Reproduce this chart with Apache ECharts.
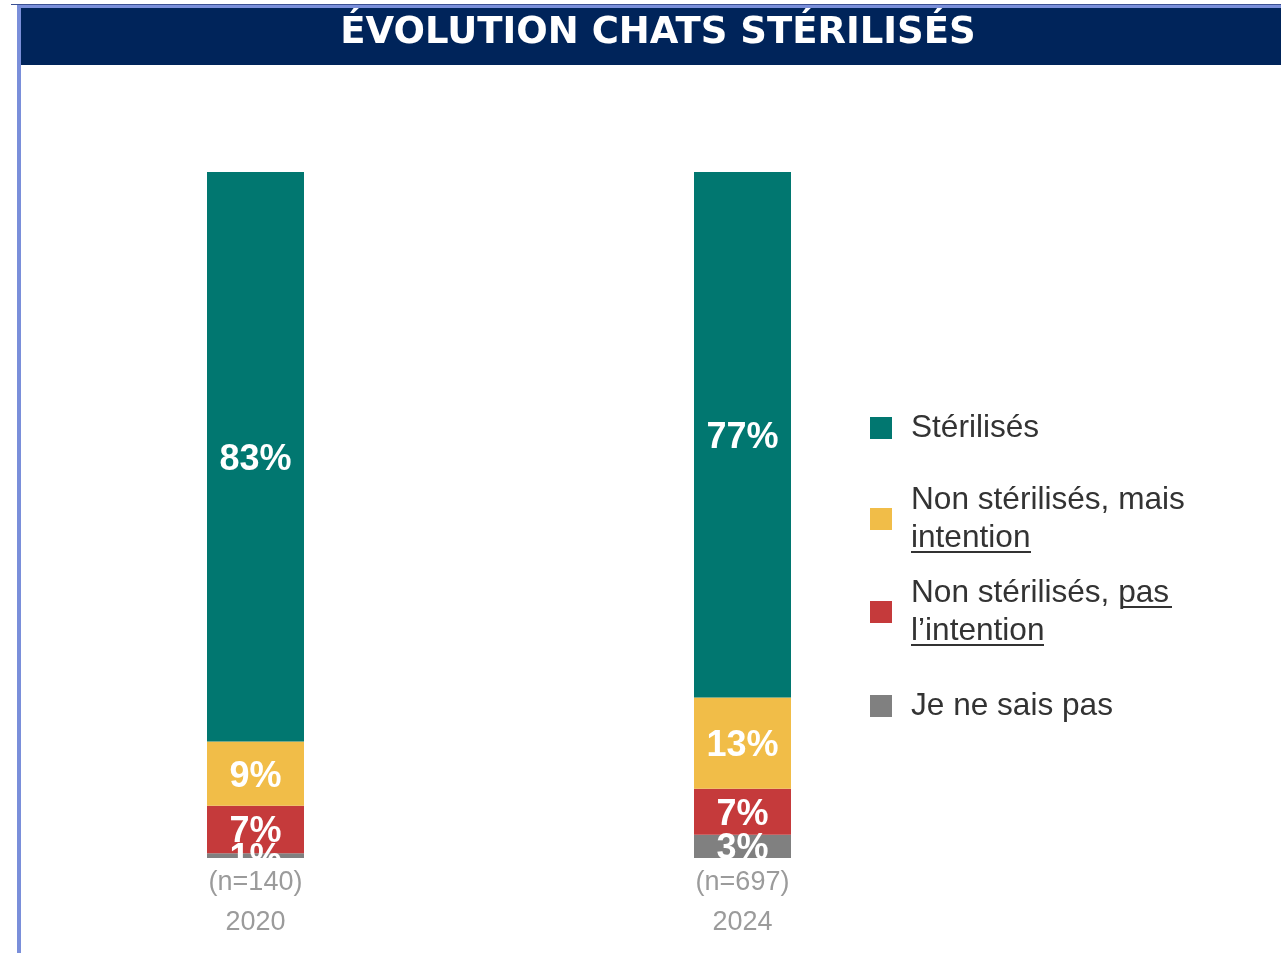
<!DOCTYPE html>
<html>
<head>
<meta charset="utf-8">
<title>Évolution chats stérilisés</title>
<script src="https://cdn.jsdelivr.net/npm/echarts@6/dist/echarts.min.js"></script>
<style>
    html, body { margin: 0; padding: 0; background: #fff; }
    #main { width: 1281px; height: 953px; }
</style>
</head>
<body>
<div id="main"></div>
<script>
    // données (hauteurs des segments, en %)
    var annees = ['2020', '2024'];
    var effectifs = ['(n=140)', '(n=697)'];
    var sterilises = [83.0, 76.6];
    var nonMaisIntention = [9.4, 13.3];
    var nonPasIntention = [6.9, 6.7];
    var neSaisPas = [0.7, 3.4];

    var couleurs = {
        teal: '#017770',
        jaune: '#f1bd48',
        rouge: '#c53a3b',
        gris: '#808080'
    };

    var labelBarre = {
        show: true,
        position: 'inside',
        formatter: function (p) { return Math.round(p.value) + '%'; },
        color: '#fff',
        fontFamily: 'Liberation Sans',
        fontWeight: 'bold',
        fontSize: 36,
        offset: [0, 3]
    };

    function serie(nom, data, couleur) {
        return {
            name: nom,
            type: 'bar',
            stack: 'total',
            barWidth: 97,
            data: data,
            itemStyle: { color: couleur },
            label: labelBarre
        };
    }

    function legende(nom, texte, top) {
        return {
            data: [nom],
            formatter: function () { return texte; },
            left: 870,
            top: top,
            padding: 0,
            icon: 'rect',
            itemWidth: 22,
            itemHeight: 22,
            selectedMode: false,
            textStyle: {
                color: '#333',
                fontFamily: 'Liberation Sans',
                fontSize: 31.6,
                lineHeight: 38,
                padding: [0, 0, 0, 14]
            }
        };
    }

    var chart = echarts.init(document.getElementById('main'));

    var option = {
        animation: false,
        backgroundColor: '#fff',
        grid: { left: 12, right: 295, top: 172, bottom: 95 },
        xAxis: {
            type: 'category',
            data: annees,
            axisLine: { show: false },
            axisTick: { show: false },
            axisLabel: {
                margin: 5,
                color: '#9b9b9b',
                fontFamily: 'Liberation Sans',
                fontSize: 27,
                lineHeight: 40,
                formatter: function (v, i) { return effectifs[i] + '\n' + v; }
            }
        },
        yAxis: {
            type: 'value',
            min: 0,
            max: 100,
            show: false,
            splitLine: { show: false }
        },
        legend: [
            legende('Stérilisés', 'Stérilisés', 409),
            legende('Non stérilisés, mais intention', 'Non stérilisés, mais\nintention', 481),
            legende('Non stérilisés, pas l’intention', 'Non stérilisés, pas\nl’intention', 574),
            legende('Je ne sais pas', 'Je ne sais pas', 687)
        ],
        // l'ordre des séries = ordre d'empilement (bas -> haut)
        series: [
            serie('Je ne sais pas', neSaisPas, couleurs.gris),
            serie('Non stérilisés, pas l’intention', nonPasIntention, couleurs.rouge),
            serie('Non stérilisés, mais intention', nonMaisIntention, couleurs.jaune),
            serie('Stérilisés', sterilises, couleurs.teal)
        ],
        graphic: [
            // cadre et bandeau du titre
            { type: 'rect', shape: { x: 11, y: 4, width: 1270, height: 1 }, style: { fill: '#3b5092' }, z: 50 },
            { type: 'rect', shape: { x: 17, y: 5, width: 1264, height: 3 }, style: { fill: '#7a8fda' }, z: 50 },
            { type: 'rect', shape: { x: 17, y: 5, width: 4, height: 948 }, style: { fill: '#7a8fda' }, z: 50 },
            { type: 'rect', shape: { x: 21, y: 8, width: 1260, height: 57 }, style: { fill: '#00245a' }, z: 50 },
            {
                type: 'text', x: 658, y: 33, z: 51,
                style: {
                    text: 'ÉVOLUTION CHATS STÉRILISÉS',
                    fill: '#fff',
                    font: 'bold 37px "DejaVu Sans"',
                    align: 'center',
                    verticalAlign: 'middle'
                }
            },
            // les étiquettes débordant sous les barres sont coupées
            { type: 'rect', shape: { x: 190, y: 858, width: 130, height: 9 }, style: { fill: '#fff' }, z: 60 },
            { type: 'rect', shape: { x: 677, y: 858, width: 130, height: 9 }, style: { fill: '#fff' }, z: 60 },
            // soulignements de la légende
            { type: 'line', shape: { x1: 911, y1: 552, x2: 1031, y2: 552 }, style: { stroke: '#333', lineWidth: 2 }, z: 60 },
            { type: 'line', shape: { x1: 1121, y1: 607, x2: 1172, y2: 607 }, style: { stroke: '#333', lineWidth: 2 }, z: 60 },
            { type: 'line', shape: { x1: 911, y1: 645, x2: 1044, y2: 645 }, style: { stroke: '#333', lineWidth: 2 }, z: 60 }
        ]
    };

    chart.setOption(option);
    window.addEventListener('resize', function () {
        chart.resize();
    });
</script>
</body>
</html>
